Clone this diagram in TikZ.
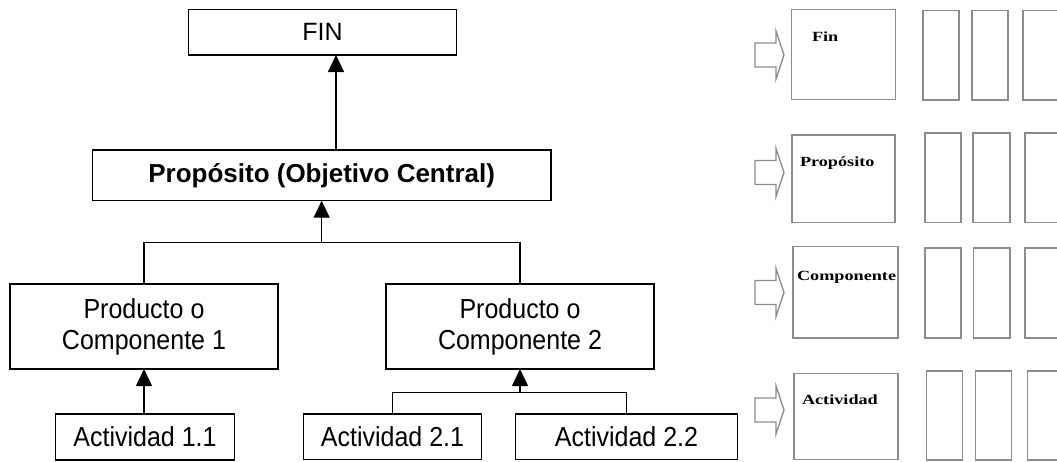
\documentclass[tikz,border=0pt]{standalone}
\usepackage{fontspec}
\setmainfont{Liberation Sans}
\newfontfamily\rowfont{Liberation Serif}
\usetikzlibrary{arrows.meta}
% slightly tall lettering used in the tree boxes
\newcommand{\tallword}[1]{\scalebox{1}[1.1]{#1}}
% wide bold lettering used for the row headings
\newcommand{\wideword}[1]{\scalebox{1.3}[1]{#1}}
\begin{document}
\begin{tikzpicture}[x=1pt, y=-1pt,
  box/.style={draw=black, line width=1.3pt, inner sep=0pt, outer sep=0pt,
    align=center, font=\fontsize{25}{31}\selectfont},
  link/.style={draw=black, line width=1.3pt},
  up/.style={link, -{Triangle[length=17pt,width=16pt]}},
  frame/.style={draw=black!45, line width=1.5pt},
  hollow/.style={draw=black!45, line width=1.3pt, line join=miter},
  rowlabel/.style={anchor=base west, inner sep=0pt, outer sep=0pt,
    font=\rowfont\bfseries\fontsize{14}{14}\selectfont}]
\useasboundingbox (0,0) rectangle (1057,462);

% ---------- objective tree ----------
\node[box, minimum width=268.4pt, minimum height=45.7pt] (fin) at (322.5,32.2) {FIN};
\node[box, minimum width=458.7pt, minimum height=50.7pt,
      font=\fontsize{26}{31}\selectfont\bfseries] (prop) at (321.65,175.4)
      {Propósito (Objetivo Central)};
\node[box, minimum width=268pt, minimum height=85pt] (comp1) at (144,326.5)
      {\tallword{Producto o}\\\tallword{Componente 1}};
\node[box, minimum width=268pt, minimum height=85pt] (comp2) at (520,326.5)
      {\tallword{Producto o}\\\tallword{Componente 2}};
\node[box, minimum width=178.6pt, minimum height=46pt] (act11) at (145,437)
      {\tallword{Actividad 1.1}};
\node[box, minimum width=178.4pt, minimum height=45.3pt] (act21) at (392.5,436.7)
      {\tallword{Actividad 2.1}};
\node[box, minimum width=221.6pt, minimum height=45.3pt] (act22) at (626.5,436.7)
      {\tallword{Actividad 2.2}};

\coordinate (fa) at (336,100);
\coordinate (bar1) at (321.65,242.3);
\coordinate (bar2) at (520,392.3);

\draw[up] (prop.north -| fa) -- (fin.south -| fa);
\draw[link] (comp1.north) |- (bar1) -| (comp2.north);
\draw[up] (bar1) -- (prop.south);
\draw[up] (act11.north -| comp1.south) -- (comp1.south);
\draw[link] (act21.north) |- (bar2) -| (act22.north);
\draw[up] (bar2) -- (comp2.south);

% ---------- matrix rows ----------
\foreach \c in {55,172.5,292.5,410}{
  \draw[hollow] (755,\c-12) -- (776,\c-12) -- (776,\c-24) -- (784,\c)
    -- (776,\c+24) -- (776,\c+12) -- (755,\c+12) -- cycle;
}

\begin{scope}
\clip (0,0) rectangle (1057,462);
% row: Fin
\draw[frame] (791.7,9.3) rectangle (895.3,99.3);
\draw[frame] (923,10.7) rectangle (959,100);
\draw[frame] (972,10.7) rectangle (1008,100);
\draw[frame] (1023,10.7) rectangle (1080,100);
% row: Propósito
\draw[frame] (792,135) rectangle (895,222.7);
\draw[frame] (925,133) rectangle (961,222.7);
\draw[frame] (973,133) rectangle (1010,222.7);
\draw[frame] (1025,133) rectangle (1080,222.7);
% row: Componente
\draw[frame] (793,246.7) rectangle (898,338);
\draw[frame] (925,248) rectangle (961,338);
\draw[frame] (973.3,248) rectangle (1010,338);
\draw[frame] (1025,248) rectangle (1080,338);
% row: Actividad
\draw[frame] (794,373.3) rectangle (898,459.3);
\draw[frame] (926.7,371) rectangle (962.7,460);
\draw[frame] (975.7,371) rectangle (1011.7,460);
\draw[frame] (1027.3,371) rectangle (1080,460);
\end{scope}

\node[rowlabel] (lfin) at (812,41.7) {\wideword{Fin}};
\node[rowlabel] (lprop) at (800,166.7) {\wideword{Propósito}};
\node[rowlabel] (lcomp) at (797,280) {\wideword{Componente}};
\node[rowlabel] (lact) at (802,404) {\wideword{Actividad}};
\end{tikzpicture}
\end{document}
